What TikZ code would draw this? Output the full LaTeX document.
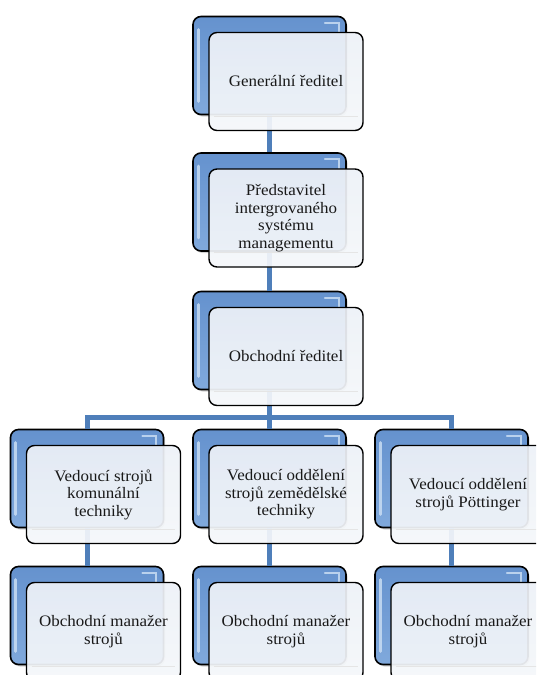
\documentclass[tikz,border=0pt]{standalone}
\usepackage{fontspec}
\setmainfont[FakeStretch=1.06]{Liberation Serif}
\usetikzlibrary{shadows}
\definecolor{bluetop}{HTML}{6592CE}
\definecolor{bluebot}{HTML}{80A9DC}
\definecolor{frontfill}{HTML}{EDF1F7}
\definecolor{conncol}{HTML}{4F7FBA}
\definecolor{hilite}{HTML}{C9DDF3}
\begin{document}
\begin{tikzpicture}[x=1pt,y=-1pt,
  backbox/.style={draw=black, line width=1.6pt, rounded corners=8pt,
    minimum width=153pt, minimum height=98pt, inner sep=0pt,
    top color=bluetop, bottom color=bluebot,
    drop shadow={shadow xshift=1.5pt, shadow yshift=-2pt, opacity=0.35}},
  frontbox/.style={draw=black, line width=1.4pt, rounded corners=8pt,
    minimum width=154pt, minimum height=98pt, inner sep=0pt,
    top color=frontfill, bottom color=frontfill!60!white, fill opacity=0.93, text opacity=1,
    align=center, font=\fontsize{16}{17.5}\selectfont, text=black!90},
  conn/.style={draw=conncol, line width=5pt},
  glow/.style={draw=hilite, line width=3pt, line cap=round, opacity=0.85}]
\useasboundingbox (0,0) rectangle (536,675);
\clip (0,0) rectangle (536,675);
% back boxes
\node[backbox] (b1) at (269.5,65.5) {};
\node[backbox] (b2) at (269.5,202) {};
\node[backbox] (b3) at (269.5,340.5) {};
\node[backbox] (b4L) at (87,478.5) {};
\node[backbox] (b4M) at (269.5,478.5) {};
\node[backbox] (b4R) at (451.5,478.5) {};
\node[backbox] (b5L) at (87,615.5) {};
\node[backbox] (b5M) at (269.5,615.5) {};
\node[backbox] (b5R) at (451.5,615.5) {};
% highlights on back boxes
\foreach \n in {b1,b2,b3,b4L,b4M,b4R,b5L,b5M,b5R}{
  \draw[glow] ([xshift=6pt,yshift=-14pt]\n.north west) -- ([xshift=6pt,yshift=14pt]\n.south west);
  \draw[glow, line width=2pt] ([xshift=-22pt,yshift=-7pt]\n.north east) -- ([xshift=-8pt,yshift=-7pt]\n.north east) -- ([xshift=-8pt,yshift=-16pt]\n.north east);
}
% connectors
\coordinate (bus) at (269.5,417);
\draw[conn] (b1.south) -- (b2.north);
\draw[conn] (b2.south) -- (b3.north);
\draw[conn] (b3.south) -- (bus);
\draw[conn] (b4L.north) |- (bus) -| (b4R.north);
\draw[conn] (bus) -- (b4M.north);
\draw[conn] (b4L.south) -- (b5L.north);
\draw[conn] (b4M.south) -- (b5M.north);
\draw[conn] (b4R.south) -- (b5R.north);
% front boxes
\node[frontbox] (f1) at (286,81.5) {Generální ředitel};
\node[frontbox] (f2) at (286,218) {Představitel\\intergrovaného\\systému\\managementu};
\node[frontbox] (f3) at (286,356.5) {Obchodní ředitel};
\node[frontbox] (f4L) at (103.5,494.5) {Vedoucí strojů\\komunální\\techniky};
\node[frontbox] (f4M) at (286,494.5) {Vedoucí oddělení\\strojů zemědělské\\techniky};
\node[frontbox] (f4R) at (468,494.5) {Vedoucí oddělení\\strojů Pöttinger};
\node[frontbox] (f5L) at (103.5,631.5) {Obchodní manažer\\strojů};
\node[frontbox] (f5M) at (286,631.5) {Obchodní manažer\\strojů};
\node[frontbox] (f5R) at (468,631.5) {Obchodní manažer\\strojů};
% inner lines of front boxes
\foreach \n in {f1,f2,f3,f4L,f4M,f4R,f5L,f5M,f5R}{
  \draw[black!10, line width=0.8pt] ([xshift=6pt,yshift=15pt]\n.south west) -- ([xshift=-6pt,yshift=15pt]\n.south east);
}
\end{tikzpicture}
\end{document}
